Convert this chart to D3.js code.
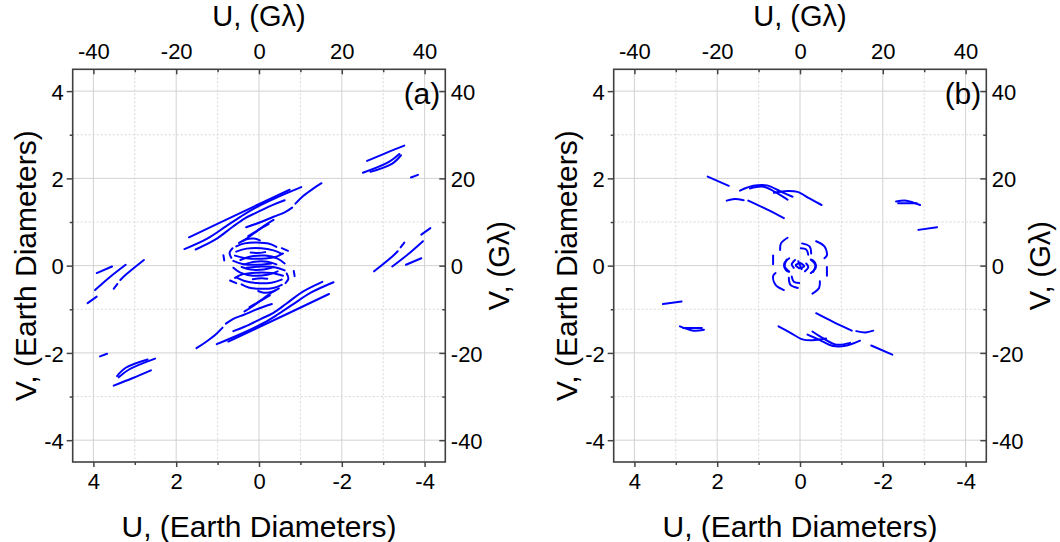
<!DOCTYPE html>
<html><head><meta charset="utf-8">
<script src="https://cdn.jsdelivr.net/npm/d3@7"></script>
<style>
body{margin:0;background:#fff}
svg{display:block}
text{font-family:"Liberation Sans",Arial,sans-serif;fill:#000}
</style>
</head><body>
<svg id="chart" width="1060" height="542"></svg>
<script>
// ---- tick values ----
const majorTicksED = [-4, -2, 0, 2, 4];
const minorTicksED = [-3, -1, 1, 3];
const majorTicksGL = [-40, -20, 0, 20, 40];
const minorTicksGL = [-30, -10, 10, 30];
const panelLabels = ["(a)", "(b)"];
const axisTitleBottom = "U, (Earth Diameters)";
const axisTitleLeft = "V, (Earth Diameters)";
const axisTitleTop = "U, (G\u03bb)";
const axisTitleRight = "V, (G\u03bb)";

// ---- panel (a): uv tracks, [U, V] in Earth diameters ----
const panelA_centralTracks = [
  [[1.69,0.65],[0.47,1.20],[-0.74,1.74]],
  [[1.80,0.38],[1.25,0.62],[0.80,0.90],[0.45,1.12],[0.10,1.32],[-0.40,1.55],[-1.02,1.80]],
  [[1.53,0.37],[1.05,0.60],[0.65,0.88],[0.35,1.08],[0.05,1.22],[-0.35,1.40],[-0.62,1.50]],
  [[0.31,0.88],[-0.05,1.00],[-0.35,1.12],[-0.62,1.22],[-0.80,1.33]],
  [[-0.88,1.42],[-1.06,1.59],[-1.30,1.76],[-1.51,1.89]],
  [[0.38,0.57],[0.15,0.72],[-0.15,0.93],[-0.35,1.05]],
  [[0.26,0.68],[0.05,0.80],[-0.23,0.95]],
  [[-1.69,-0.65],[-0.47,-1.20],[0.74,-1.74]],
  [[-1.80,-0.38],[-1.25,-0.62],[-0.80,-0.90],[-0.45,-1.12],[-0.10,-1.32],[0.40,-1.55],[1.02,-1.80]],
  [[-1.53,-0.37],[-1.05,-0.60],[-0.65,-0.88],[-0.35,-1.08],[-0.05,-1.22],[0.35,-1.40],[0.62,-1.50]],
  [[-0.31,-0.88],[0.05,-1.00],[0.35,-1.12],[0.62,-1.22],[0.80,-1.33]],
  [[0.88,-1.42],[1.06,-1.59],[1.30,-1.76],[1.51,-1.89]],
  [[-0.38,-0.57],[-0.15,-0.72],[0.15,-0.93],[0.35,-1.05]],
  [[-0.26,-0.68],[-0.05,-0.80],[0.23,-0.95]]
];
const panelA_outerTracks = [
  [[-2.61,2.40],[-3.06,2.58],[-3.51,2.75]],
  [[-2.51,2.13],[-3.14,2.38],[-3.39,2.56]],
  [[-2.69,2.15],[-3.22,2.34],[-3.43,2.53]],
  [[-3.67,2.02],[-3.84,2.08]],
  [[2.61,-2.40],[3.06,-2.58],[3.51,-2.75]],
  [[2.51,-2.13],[3.14,-2.38],[3.39,-2.56]],
  [[2.69,-2.15],[3.22,-2.34],[3.43,-2.53]],
  [[3.67,-2.02],[3.84,-2.08]],
  [[-2.78,-0.13],[-3.22,0.21],[-3.35,0.33]],
  [[-3.42,0.42],[-3.51,0.53]],
  [[-3.22,-0.02],[-3.60,0.26],[-3.96,0.56]],
  [[-3.55,0.02],[-3.92,0.17]],
  [[-3.92,0.71],[-4.14,0.86]],
  [[2.78,0.13],[3.22,-0.21],[3.35,-0.33]],
  [[3.42,-0.42],[3.51,-0.53]],
  [[3.22,0.02],[3.60,-0.26],[3.96,-0.56]],
  [[3.55,-0.02],[3.92,-0.17]],
  [[3.92,-0.71],[4.14,-0.86]]
];
const panelA_blob = [
  [[0.48,0.52],[0.32,0.60],[0.12,0.62],[-0.02,0.58]],
  [[0.55,0.44],[0.35,0.51],[0.05,0.53],[-0.25,0.50],[-0.42,0.43]],
  [[0.64,0.40],[0.71,0.30],[0.67,0.18]],
  [[0.55,0.32],[0.30,0.39],[-0.05,0.40],[-0.35,0.35],[-0.55,0.27]],
  [[0.58,0.23],[0.30,0.17],[-0.05,0.16],[-0.40,0.20],[-0.58,0.28]],
  [[0.45,0.13],[0.20,0.21],[-0.15,0.23],[-0.45,0.16],[-0.62,0.05]],
  [[0.62,0.11],[0.40,0.04],[0.05,0.02],[-0.30,0.05]],
  [[0.35,0.03],[0.10,0.09],[-0.20,0.09],[-0.42,0.03]],
  [[0.86,0.24],[0.84,0.12]],
  [[-0.55,0.40],[-0.70,0.34]],
  [[0.20,0.30],[0.05,0.29],[-0.15,0.31]],
  [[-0.48,-0.52],[-0.32,-0.60],[-0.12,-0.62],[0.02,-0.58]],
  [[-0.55,-0.44],[-0.35,-0.51],[-0.05,-0.53],[0.25,-0.50],[0.42,-0.43]],
  [[-0.64,-0.40],[-0.71,-0.30],[-0.67,-0.18]],
  [[-0.55,-0.32],[-0.30,-0.39],[0.05,-0.40],[0.35,-0.35],[0.55,-0.27]],
  [[-0.58,-0.23],[-0.30,-0.17],[0.05,-0.16],[0.40,-0.20],[0.58,-0.28]],
  [[-0.45,-0.13],[-0.20,-0.21],[0.15,-0.23],[0.45,-0.16],[0.62,-0.05]],
  [[-0.62,-0.11],[-0.40,-0.04],[-0.05,-0.02],[0.30,-0.05]],
  [[-0.35,-0.03],[-0.10,-0.09],[0.20,-0.09],[0.42,-0.03]],
  [[-0.86,-0.24],[-0.84,-0.12]],
  [[0.55,-0.40],[0.70,-0.34]],
  [[-0.20,-0.30],[-0.05,-0.29],[0.15,-0.31]]
];

// ---- panel (b): uv tracks ----
const panelB_tracks = [
  [[2.23,2.04],[1.72,1.83]],
  [[1.45,1.72],[1.13,1.83],[0.80,1.84],[0.47,1.70],[0.18,1.58]],
  [[1.21,1.77],[0.88,1.81],[0.55,1.66],[0.30,1.51]],
  [[0.63,1.67],[0.30,1.71],[0.06,1.69],[-0.23,1.54],[-0.52,1.39]],
  [[1.77,1.49],[1.58,1.53],[1.36,1.50]],
  [[1.25,1.49],[0.80,1.29],[0.39,1.09]],
  [[-2.32,1.47],[-2.57,1.49],[-2.90,1.39]],
  [[-2.37,1.43],[-2.82,1.43]],
  [[-2.86,0.82],[-3.31,0.88]],
  [[-2.23,-2.04],[-1.72,-1.83]],
  [[-1.45,-1.72],[-1.13,-1.83],[-0.80,-1.84],[-0.47,-1.70],[-0.18,-1.58]],
  [[-1.21,-1.77],[-0.88,-1.81],[-0.55,-1.66],[-0.30,-1.51]],
  [[-0.63,-1.67],[-0.30,-1.71],[-0.06,-1.69],[0.23,-1.54],[0.52,-1.39]],
  [[-1.77,-1.49],[-1.58,-1.53],[-1.36,-1.50]],
  [[-1.25,-1.49],[-0.80,-1.29],[-0.39,-1.09]],
  [[2.32,-1.47],[2.57,-1.49],[2.90,-1.39]],
  [[2.37,-1.43],[2.82,-1.43]],
  [[2.86,-0.82],[3.31,-0.88]]
];
const panelB_blob = [
  [[0.30,0.64],[0.46,0.51],[0.48,0.36]],
  [[-0.05,0.51],[-0.23,0.44],[-0.27,0.28]],
  [[-0.02,0.40],[-0.15,0.37],[-0.20,0.25]],
  [[-0.39,0.56],[-0.59,0.44],[-0.65,0.24],[-0.59,0.17]],
  [[0.65,0.23],[0.65,0.03]],
  [[0.26,0.17],[0.38,0.05],[0.34,-0.10],[0.26,-0.14]],
  [[0.12,0.13],[0.20,0.03],[0.15,-0.05]],
  [[-0.27,0.13],[-0.37,0.02],[-0.32,-0.14]],
  [[0.10,0.02],[0.00,0.06],[-0.10,0.00]],
  [[0.04,0.10],[-0.04,-0.08]],
  [[-0.30,-0.64],[-0.46,-0.51],[-0.48,-0.36]],
  [[0.05,-0.51],[0.23,-0.44],[0.27,-0.28]],
  [[0.02,-0.40],[0.15,-0.37],[0.20,-0.25]],
  [[0.39,-0.56],[0.59,-0.44],[0.65,-0.24],[0.59,-0.17]],
  [[-0.65,-0.23],[-0.65,-0.03]],
  [[-0.26,-0.17],[-0.38,-0.05],[-0.34,0.10],[-0.26,0.14]],
  [[-0.12,-0.13],[-0.20,-0.03],[-0.15,0.05]],
  [[0.27,-0.13],[0.37,-0.02],[0.32,0.14]],
  [[-0.10,-0.02],[0.00,-0.06],[0.10,0.00]]
];

const panels = [
  {label: panelLabels[0], tracks: panelA_centralTracks.concat(panelA_outerTracks, panelA_blob), dx: 0},
  {label: panelLabels[1], tracks: panelB_tracks.concat(panelB_blob), dx: 541}
];

const svg = d3.select("#chart");
const left0 = 72.7, right0 = 445.3, plotTop = 69.3, plotBottom = 462;
const fmt = d => String(d);

panels.forEach(p => {
  const L = left0 + p.dx, R = right0 + p.dx, cx = (L + R) / 2, cy = (plotTop + plotBottom) / 2;
  const x = d3.scaleLinear().domain([4.5, -4.5]).range([L, R]);
  const y = d3.scaleLinear().domain([-4.5, 4.5]).range([plotBottom, plotTop]);
  const xg = d3.scaleLinear().domain([-45, 45]).range([L, R]);
  const yg = d3.scaleLinear().domain([-45, 45]).range([plotBottom, plotTop]);
  const g = svg.append("g");

  // grid
  const grid = g.append("g");
  majorTicksED.forEach(v => {
    grid.append("line").attr("x1", x(v)).attr("x2", x(v)).attr("y1", plotTop).attr("y2", plotBottom)
      .attr("stroke", "#d2d2d2").attr("stroke-width", 1);
    grid.append("line").attr("x1", L).attr("x2", R).attr("y1", y(v)).attr("y2", y(v))
      .attr("stroke", "#d2d2d2").attr("stroke-width", 1);
  });
  minorTicksED.forEach(v => {
    grid.append("line").attr("x1", x(v)).attr("x2", x(v)).attr("y1", plotTop).attr("y2", plotBottom)
      .attr("stroke", "#d8d8d8").attr("stroke-width", 1).attr("stroke-dasharray", "2,2");
    grid.append("line").attr("x1", L).attr("x2", R).attr("y1", y(v)).attr("y2", y(v))
      .attr("stroke", "#d8d8d8").attr("stroke-width", 1).attr("stroke-dasharray", "2,2");
  });

  // tracks
  const line = d3.line().x(d => x(d[0])).y(d => y(d[1])).curve(d3.curveCatmullRom.alpha(0.5));
  g.append("g").selectAll("path").data(p.tracks).join("path")
    .attr("d", line).attr("fill", "none").attr("stroke", "#0000ff")
    .attr("stroke-width", 2).attr("stroke-linecap", "round").attr("stroke-linejoin", "round");

  // axes
  const style = sel => {
    sel.select(".domain").remove();
    sel.selectAll(".tick line").attr("stroke", "#444").attr("stroke-width", 1.5);
    sel.selectAll(".tick text").attr("font-size", 22).attr("fill", "#000")
      .style("font-family", '"Liberation Sans", Arial, sans-serif');
  };
  g.append("g").attr("transform", `translate(0,${plotBottom})`)
    .call(d3.axisBottom(x).tickValues(majorTicksED).tickFormat(fmt).tickSize(5).tickPadding(6.5)).call(style);
  g.append("g").attr("transform", `translate(0,${plotBottom})`)
    .call(d3.axisBottom(x).tickValues(minorTicksED).tickFormat("").tickSize(3)).call(style);
  g.append("g").attr("transform", `translate(${L},0)`)
    .call(d3.axisLeft(y).tickValues(majorTicksED).tickFormat(fmt).tickSize(6).tickPadding(3)).call(style)
    .selectAll(".tick text").attr("dy", "0.37em");
  g.append("g").attr("transform", `translate(${L},0)`)
    .call(d3.axisLeft(y).tickValues(minorTicksED).tickFormat("").tickSize(3)).call(style);
  g.append("g").attr("transform", `translate(0,${plotTop})`)
    .call(d3.axisTop(xg).tickValues(majorTicksGL).tickFormat(fmt).tickSize(-5).tickPadding(10)).call(style);
  g.append("g").attr("transform", `translate(0,${plotTop})`)
    .call(d3.axisTop(xg).tickValues(minorTicksGL).tickFormat("").tickSize(-3)).call(style);
  g.append("g").attr("transform", `translate(${R},0)`)
    .call(d3.axisRight(yg).tickValues(majorTicksGL).tickFormat(fmt).tickSize(-6).tickPadding(5.5)).call(style)
    .selectAll(".tick text").attr("dy", "0.37em");
  g.append("g").attr("transform", `translate(${R},0)`)
    .call(d3.axisRight(yg).tickValues(minorTicksGL).tickFormat("").tickSize(-3)).call(style);

  // frame
  g.append("rect").attr("x", L).attr("y", plotTop).attr("width", R - L).attr("height", plotBottom - plotTop)
    .attr("fill", "none").attr("stroke", "#404040").attr("stroke-width", 1.6);

  // titles
  g.append("text").attr("x", cx).attr("y", 537).attr("text-anchor", "middle")
    .attr("font-size", 30).text(axisTitleBottom);
  g.append("text").attr("x", cx).attr("y", 26).attr("text-anchor", "middle")
    .attr("font-size", 29).text(axisTitleTop);
  g.append("text").attr("transform", `translate(${35.5 + p.dx},${cy}) rotate(-90)`)
    .attr("text-anchor", "middle").attr("font-size", 30).text(axisTitleLeft);
  g.append("text").attr("transform", `translate(${509 + p.dx},${cy}) rotate(-90)`)
    .attr("text-anchor", "middle").attr("font-size", 29).text(axisTitleRight);
  g.append("text").attr("x", R - 5).attr("y", 104).attr("text-anchor", "end")
    .attr("font-size", 30).text(p.label);
});
</script>
</body></html>
